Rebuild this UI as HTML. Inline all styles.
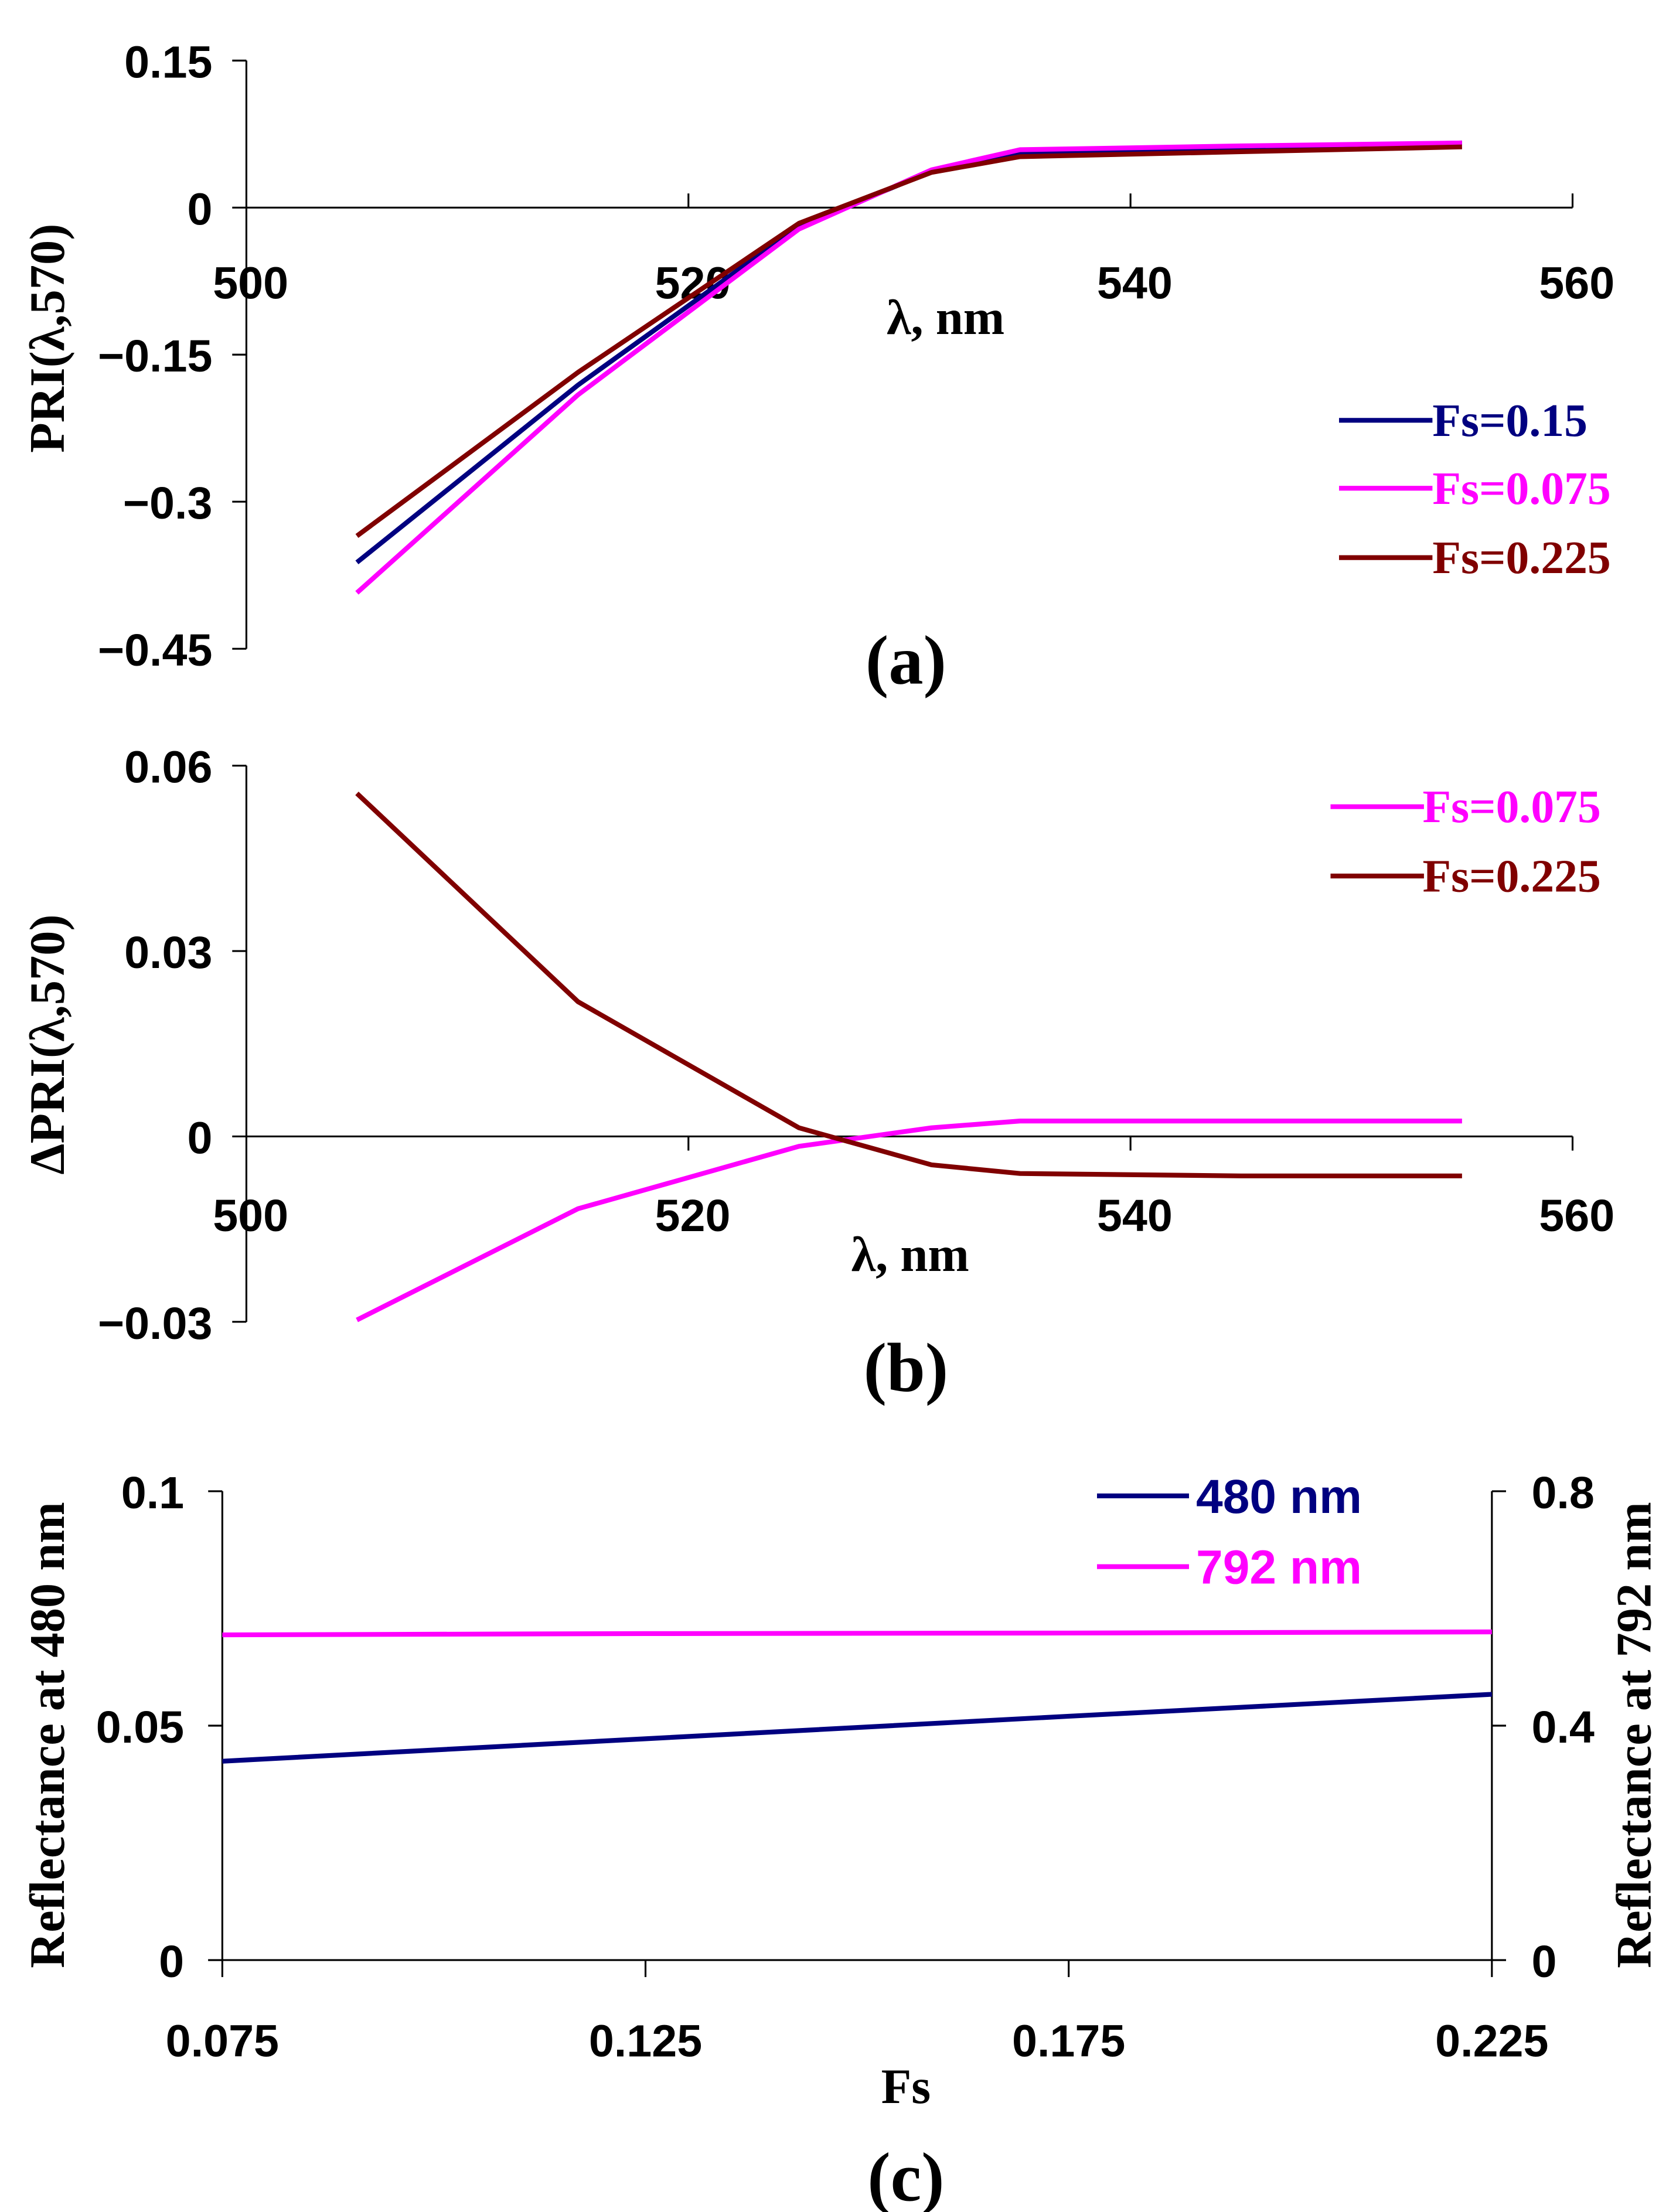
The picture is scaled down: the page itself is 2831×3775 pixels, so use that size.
<!DOCTYPE html>
<html><head><meta charset="utf-8"><style>
html,body{margin:0;padding:0;background:#fff}
svg{display:block}
.tk{font-family:"Liberation Sans",Arial,sans-serif;font-weight:bold;font-size:32px;fill:#000}
.ti{font-family:"Liberation Serif","Times New Roman",serif;font-weight:bold;font-size:35px;fill:#000}
.lg{font-family:"Liberation Serif","Times New Roman",serif;font-weight:bold;font-size:33px}
.lgs{font-family:"Liberation Sans",Arial,sans-serif;font-weight:bold;font-size:34px}
.pl{font-family:"Liberation Serif","Times New Roman",serif;font-weight:bold;font-size:49px;fill:#000}
</style></head><body>
<svg id="fig" width="2831" height="3775" viewBox="0 0 1172 1563" xmlns="http://www.w3.org/2000/svg"></svg>
<script>
// ---- data ----
const wl = [505, 515, 525, 531, 535, 545, 555];
const priFs015 = [-0.362, -0.181, -0.019, 0.037, 0.056, 0.061, 0.066];
const priFs0075 = [-0.393, -0.191, -0.022, 0.0385, 0.059, 0.063, 0.066];
const priFs0225 = [-0.335, -0.168, -0.016, 0.036, 0.052, 0.057, 0.062];
const dpriFs0075 = [-0.0297, -0.0117, -0.0016, 0.0014, 0.0025, 0.0025, 0.0025];
const dpriFs0225 = [0.0555, 0.0218, 0.0014, -0.0046, -0.006, -0.0064, -0.0064];
const fsVals = [0.075, 0.125, 0.175, 0.225];
const refl480 = [0.0424, 0.0472, 0.052, 0.0567];
const refl792 = [0.555, 0.557, 0.558, 0.560];
const xTicksWl = [500, 520, 540, 560];
const yTicksA = [0.15, 0, -0.15, -0.3, -0.45];
const yTickLabelsA = ["0.15", "0", "\u22120.15", "\u22120.3", "\u22120.45"];
const yTicksB = [0.06, 0.03, 0, -0.03];
const yTickLabelsB = ["0.06", "0.03", "0", "\u22120.03"];
const xTicksFs = [0.075, 0.125, 0.175, 0.225];
const yTicksCL = [0.1, 0.05, 0];
const yTicksCR = [0.8, 0.4, 0];

const NS = "http://www.w3.org/2000/svg";
const svg = document.getElementById('fig');
function el(tag, attrs, parent) {
  const e = document.createElementNS(NS, tag);
  for (const k in attrs) e.setAttribute(k, attrs[k]);
  (parent || svg).appendChild(e);
  return e;
}
function txt(s, x, y, cls, anchor, parent, extra) {
  const t = el('text', Object.assign({x: x, y: y, class: cls, 'text-anchor': anchor || 'middle'}, extra || {}), parent);
  t.textContent = s;
  return t;
}
function lin(d0, d1, r0, r1) { return v => r0 + (v - d0) / (d1 - d0) * (r1 - r0); }
function polyline(xs, ys, fx, fy, color, g) {
  const pts = xs.map((x, i) => fx(x).toFixed(1) + ',' + fy(ys[i]).toFixed(1)).join(' ');
  return el('polyline', {points: pts, fill: 'none', stroke: color, 'stroke-width': 3.4, 'stroke-linejoin': 'round'}, g);
}
const NAVY = '#000080', PINK = '#ff00ff', RED = '#800000';

// ---- panel a ----
const ga = el('g', {});


const xa = lin(500, 560, 174, 1111);
const ya = lin(0, 0.15, 146.7, 42.8);
el('line', {x1: 174, y1: ya(0.15), x2: 174, y2: ya(-0.45), stroke: '#000', 'stroke-width': 1.3}, ga);
el('line', {x1: 174, y1: ya(0), x2: 1111, y2: ya(0), stroke: '#000', 'stroke-width': 1.3}, ga);
yTicksA.forEach((v, i) => {
  el('line', {x1: 164, y1: ya(v), x2: 174, y2: ya(v), stroke: '#000', 'stroke-width': 1.3}, ga);
  const t = txt(yTickLabelsA[i], 150, ya(v) + 12, 'tk', 'end', ga);
  
  
});
xTicksWl.forEach(v => {
  if (v > 500) el('line', {x1: xa(v), y1: ya(0), x2: xa(v), y2: ya(0) - 10, stroke: '#000', 'stroke-width': 1.3}, ga);
  const t = txt(String(v), xa(v) + 3, 211, 'tk', 'middle', ga);
  
  
});
const la = txt('\u03bb, nm', 668, 236, 'ti', 'middle', ga);


const ta = txt('PRI(\u03bb,570)', 0, 0, 'ti', 'middle', ga, {transform: 'translate(45,239) rotate(-90)'});


[[priFs015, NAVY], [priFs0075, PINK], [priFs0225, RED]].forEach(([s, c]) => {
  const p = polyline(wl, s, xa, ya, c, ga);
  
  
});
[['Fs=0.15', NAVY, 297], ['Fs=0.075', PINK, 345], ['Fs=0.225', RED, 394]].forEach(([s, c, y]) => {
  el('line', {x1: 946, y1: y, x2: 1012, y2: y, stroke: c, 'stroke-width': 3.4}, ga);
  const t = txt(s, 1012, y + 11, 'lg', 'start', ga, {fill: c});
  
  
});
const pa = txt('(a)', 640, 483, 'pl', 'middle', ga);



// ---- panel b ----
const gb = el('g', {});


const xb = lin(500, 560, 174, 1111);
const yb = lin(0, 0.03, 803, 672);
el('line', {x1: 174, y1: yb(0.06), x2: 174, y2: yb(-0.03), stroke: '#000', 'stroke-width': 1.3}, gb);
el('line', {x1: 174, y1: yb(0), x2: 1111, y2: yb(0), stroke: '#000', 'stroke-width': 1.3}, gb);
yTicksB.forEach((v, i) => {
  el('line', {x1: 164, y1: yb(v), x2: 174, y2: yb(v), stroke: '#000', 'stroke-width': 1.3}, gb);
  const t = txt(yTickLabelsB[i], 150, yb(v) + 12, 'tk', 'end', gb);
  
  
});
xTicksWl.forEach(v => {
  if (v > 500) el('line', {x1: xb(v), y1: yb(0), x2: xb(v), y2: yb(0) + 10, stroke: '#000', 'stroke-width': 1.3}, gb);
  const t = txt(String(v), xb(v) + 3, 870, 'tk', 'middle', gb);
  
  
});
const lb = txt('\u03bb, nm', 643, 898, 'ti', 'middle', gb);


const tb = txt('\u0394PRI(\u03bb,570)', 0, 0, 'ti', 'middle', gb, {transform: 'translate(45,738) rotate(-90)'});


[[dpriFs0075, PINK], [dpriFs0225, RED]].forEach(([s, c]) => {
  const p = polyline(wl, s, xb, yb, c, gb);
  
  
});
[['Fs=0.075', PINK, 570], ['Fs=0.225', RED, 619]].forEach(([s, c, y]) => {
  el('line', {x1: 940, y1: y, x2: 1006, y2: y, stroke: c, 'stroke-width': 3.4}, gb);
  const t = txt(s, 1005, y + 11, 'lg', 'start', gb, {fill: c});
  
  
});
const pb = txt('(b)', 640, 983, 'pl', 'middle', gb);



// ---- panel c ----
const gc = el('g', {});


const xc = lin(0.075, 0.225, 157, 1054);
const ycL = lin(0, 0.1, 1385, 1053.7);
const ycR = lin(0, 0.8, 1385, 1053.7);
el('line', {x1: 157, y1: 1053.7, x2: 157, y2: 1385, stroke: '#000', 'stroke-width': 1.3}, gc);
el('line', {x1: 1054, y1: 1053.7, x2: 1054, y2: 1385, stroke: '#000', 'stroke-width': 1.3}, gc);
el('line', {x1: 147, y1: 1385, x2: 1064, y2: 1385, stroke: '#000', 'stroke-width': 1.3}, gc);
yTicksCL.forEach(v => {
  el('line', {x1: 147, y1: ycL(v), x2: 157, y2: ycL(v), stroke: '#000', 'stroke-width': 1.3}, gc);
  const t = txt(String(v), 130, ycL(v) + 12, 'tk', 'end', gc);
  
  
});
yTicksCR.forEach(v => {
  el('line', {x1: 1054, y1: ycR(v), x2: 1064, y2: ycR(v), stroke: '#000', 'stroke-width': 1.3}, gc);
  const t = txt(String(v), 1082, ycR(v) + 12, 'tk', 'start', gc);
  
  
});
xTicksFs.forEach(v => {
  el('line', {x1: xc(v), y1: 1385, x2: xc(v), y2: 1397, stroke: '#000', 'stroke-width': 1.3}, gc);
  const t = txt(String(v), xc(v), 1453, 'tk', 'middle', gc);
  
  
});
const lc = txt('Fs', 640, 1486, 'ti', 'middle', gc);


const tcl = txt('Reflectance at 480 nm', 0, 0, 'ti', 'middle', gc, {transform: 'translate(45,1226) rotate(-90)'});


const tcr = txt('Reflectance at 792 nm', 0, 0, 'ti', 'middle', gc, {transform: 'translate(1166,1226) rotate(-90)'});


const p792 = polyline(fsVals, refl792, xc, ycR, PINK, gc);


const p480 = polyline(fsVals, refl480, xc, ycL, NAVY, gc);


[['480 nm', NAVY, 1057], ['792 nm', PINK, 1107]].forEach(([s, c, y]) => {
  el('line', {x1: 775, y1: y, x2: 840, y2: y, stroke: c, 'stroke-width': 3.4}, gc);
  const t = txt(s, 845, y + 12, 'lgs', 'start', gc, {fill: c});
  
  
});
const pc = txt('(c)', 640, 1555, 'pl', 'middle', gc);


</script>
</body></html>
